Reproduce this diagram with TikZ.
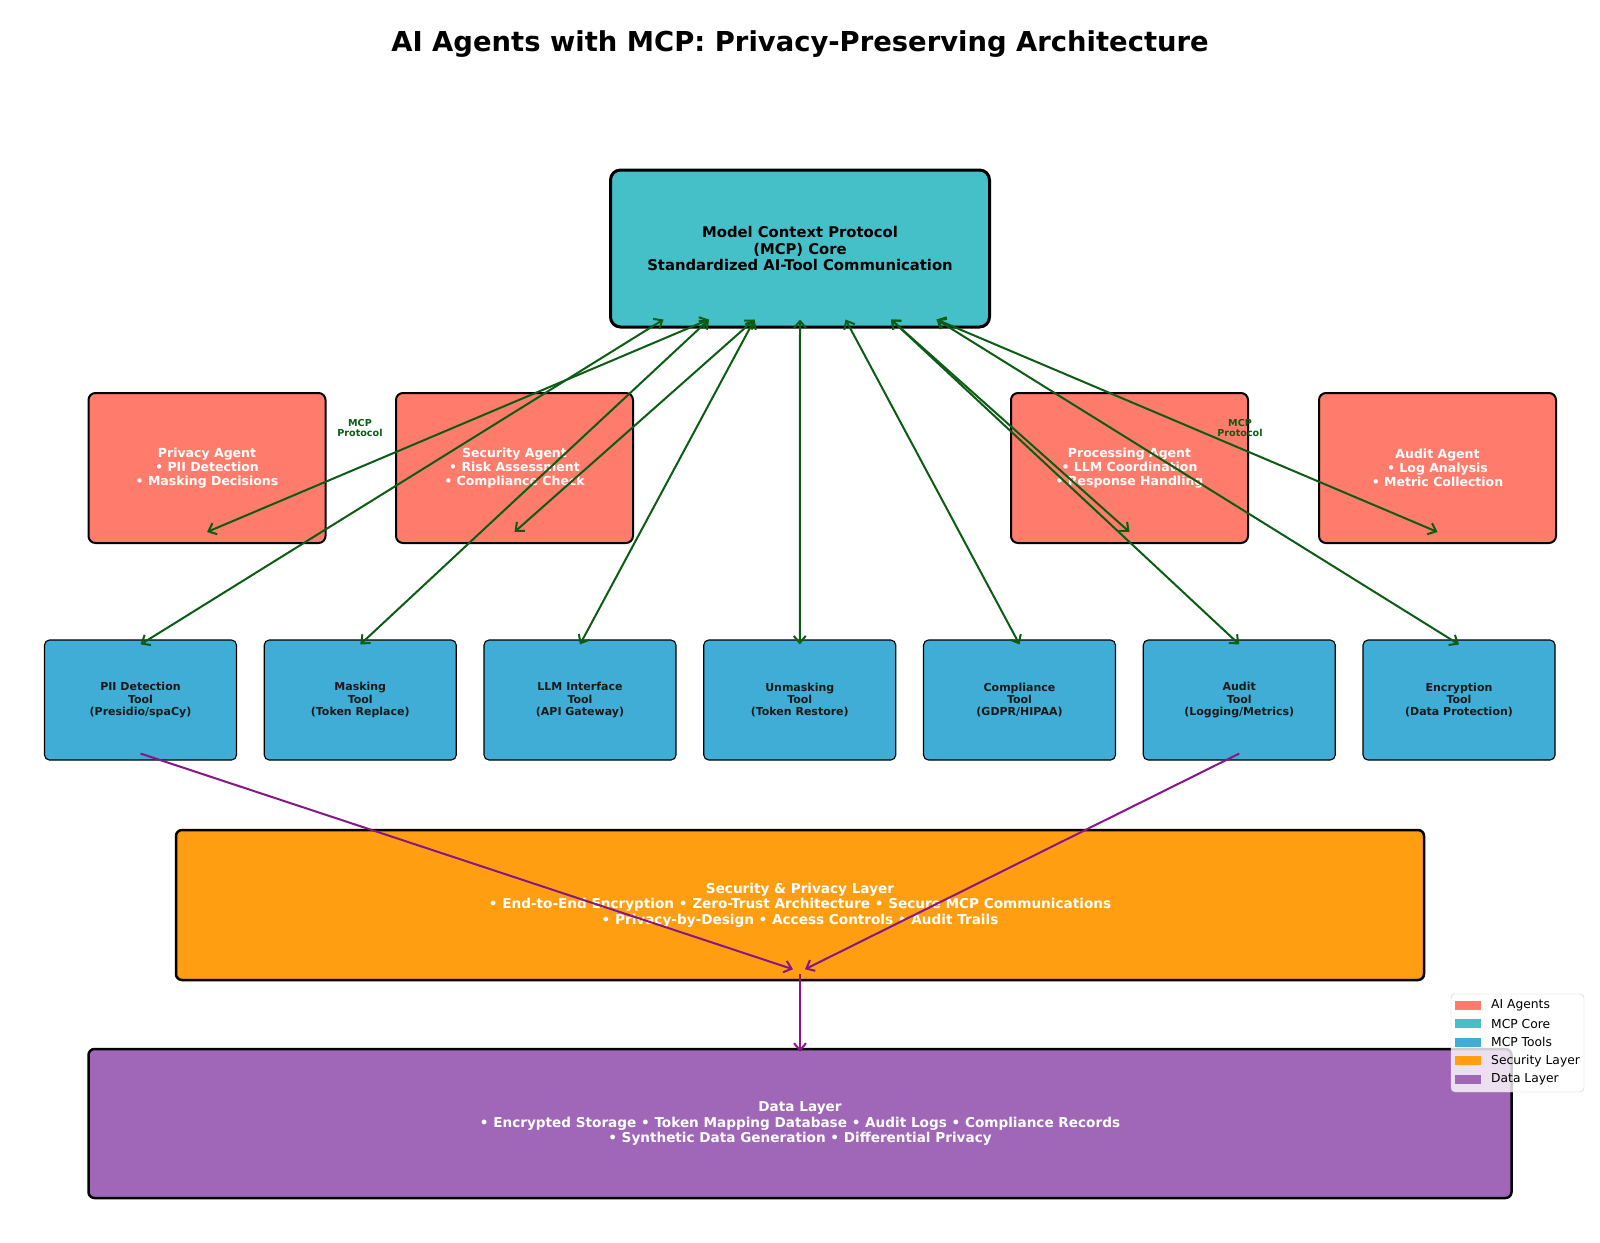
\documentclass[tikz,border=0pt]{standalone}
\usepackage{fontspec}
\setmainfont{DejaVu Sans}
\usepackage{tikz}
\usetikzlibrary{arrows.meta}
\definecolor{agentred}{HTML}{FF7B6B}
\definecolor{coreteal}{HTML}{45C0C8}
\definecolor{toolblue}{HTML}{3FADD6}
\definecolor{securityorange}{HTML}{FF9E10}
\definecolor{datapurple}{HTML}{A066B8}
\definecolor{linkgreen}{HTML}{0B5D13}
\definecolor{flowpurple}{HTML}{86168A}

\begin{document}
\begin{tikzpicture}[x=1pt, y=-1pt, node distance=219.75pt,
    box/.style={rectangle, draw=black, inner sep=0pt, align=center},
    core/.style={box, rounded corners=10pt, line width=3pt, fill=coreteal, minimum width=379pt, minimum height=157pt, font=\fontsize{14.8}{16.3}\selectfont\bfseries},
    agent/.style={box, rounded corners=7pt, line width=2pt, fill=agentred, text=white, minimum width=237pt, minimum height=150pt, font=\fontsize{12.5}{14.3}\selectfont\bfseries},
    tool/.style={box, rounded corners=5pt, line width=1.1pt, fill=toolblue, text=black!90, minimum width=192pt, minimum height=120pt, font=\fontsize{11}{12.2}\selectfont\bfseries},
    layer/.style={box, rounded corners=6pt, line width=2.5pt, text=white, minimum height=150pt, font=\fontsize{13.6}{15.3}\selectfont\bfseries},
    protocol/.style={align=center, inner sep=0pt, text=linkgreen, font=\fontsize{9.6}{10.7}\selectfont\bfseries},
    link/.style={draw=linkgreen, line width=2pt, {Straight Barb[length=7pt,width=12pt]}-{Straight Barb[length=7pt,width=12pt]}},
    flow/.style={draw=flowpurple, line width=2pt, -{Straight Barb[length=7pt,width=12pt]}},
    swatch/.style={rectangle, inner sep=0pt, minimum width=26pt, minimum height=9pt},
    keytext/.style={anchor=west, inner sep=0pt, font=\fontsize{12.3}{14}\selectfont}]
    \useasboundingbox (0,0) rectangle (1600,1242);

    \node[font=\fontsize{27.4}{32}\selectfont\bfseries] (title) at (800,44) {AI Agents with MCP: Privacy-Preserving Architecture};

    \node[core] (core) at (800,248.5) {Model Context Protocol\\(MCP) Core\\Standardized AI-Tool Communication};

    \node[agent] (privacy) at (207,468) {Privacy Agent\\• PII Detection\\• Masking Decisions};
    \node[agent] (security) at (514.5,468) {Security Agent\\• Risk Assessment\\• Compliance Check};
    \node[agent] (processing) at (1129.5,468) {Processing Agent\\• LLM Coordination\\• Response Handling};
    \node[agent] (audit) at (1437.5,468) {Audit Agent\\• Log Analysis\\• Metric Collection};

    \node[tool] (pii) at (140.5,700) {PII Detection\\Tool\\(Presidio/spaCy)};
    \node[tool] (masking) [right of=pii] {Masking\\Tool\\(Token Replace)};
    \node[tool] (llm) [right of=masking] {LLM Interface\\Tool\\(API Gateway)};
    \node[tool] (unmasking) [right of=llm] {Unmasking\\Tool\\(Token Restore)};
    \node[tool] (compliance) [right of=unmasking] {Compliance\\Tool\\(GDPR/HIPAA)};
    \node[tool] (audittool) [right of=compliance] {Audit\\Tool\\(Logging/Metrics)};
    \node[tool] (encryption) [right of=audittool] {Encryption\\Tool\\(Data Protection)};

    \node[layer, fill=securityorange, minimum width=1248pt] (seclayer) at (800,905) {Security \& Privacy Layer\\• End-to-End Encryption • Zero-Trust Architecture • Secure MCP Communications\\• Privacy-by-Design • Access Controls • Audit Trails};
    \node[layer, fill=datapurple, minimum width=1423pt, minimum height=149pt] (datalayer) at (800,1123.5) {Data Layer\\• Encrypted Storage • Token Mapping Database • Audit Logs • Compliance Records\\• Synthetic Data Generation • Differential Privacy};

    \foreach \a/\k in {privacy/-2, security/-1, processing/2, audit/3}
        \draw[link] ([xshift=\k*45.5pt, yshift=9pt]core.south) -- ([yshift=12pt]\a.south);
    \foreach \t [count=\k from -3] in {pii, masking, llm, unmasking, compliance, audittool, encryption}
        \draw[link] ([xshift=\k*45.5pt, yshift=9pt]core.south) -- ([yshift=-5pt]\t.north);

    \node[protocol] (protoleft) at (360,428) {MCP\\Protocol};
    \node[protocol] (protoright) at (1240,428) {MCP\\Protocol};

    \draw[flow] ([yshift=7pt]pii.south) -- ([xshift=-7pt, yshift=12pt]seclayer.south);
    \draw[flow] ([yshift=7pt]audittool.south) -- ([xshift=5pt, yshift=12pt]seclayer.south);
    \draw[flow] ([yshift=7pt]seclayer.south) -- ([yshift=-4pt]datalayer.north);

    \node[rectangle, rounded corners=4pt, draw=black!20, fill=white, fill opacity=0.8, minimum width=133pt, minimum height=98pt] (legend) at (1517.5,1043) {};
    \foreach \c/\l [count=\i from 0] in {agentred/AI Agents, coreteal/MCP Core, toolblue/MCP Tools, securityorange/Security Layer, datapurple/Data Layer} {
        \node[swatch, fill=\c] (swatch\i) at (1468,1005+18.6*\i) {};
        \node[keytext] (key\i) at (1491,1005+18.6*\i) {\l};
    }
\end{tikzpicture}
\end{document}
